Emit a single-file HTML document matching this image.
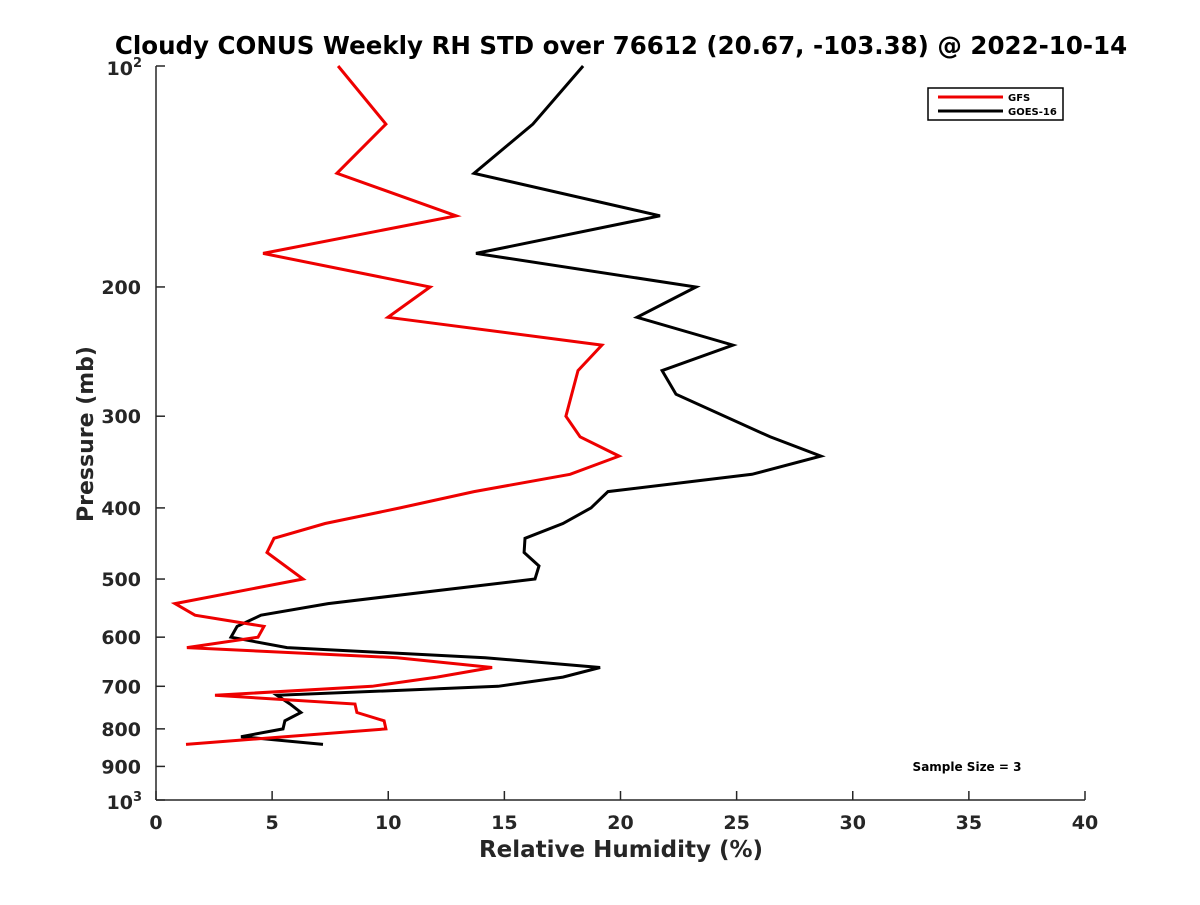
<!DOCTYPE html>
<html><head><meta charset="utf-8"><style>
body{margin:0;background:#fff}
text{font-family:"DejaVu Sans","Liberation Sans",sans-serif;font-weight:bold;fill:#262626}
</style></head><body>
<svg id="chart" width="1200" height="900" xmlns="http://www.w3.org/2000/svg">
<text x="621" y="54" font-size="24.5" text-anchor="middle" style="fill:#000">Cloudy CONUS Weekly RH STD over 76612 (20.67, -103.38) @ 2022-10-14</text>
<g id="axes"></g>
<g id="series"></g>
<text x="621" y="857" font-size="23" text-anchor="middle">Relative Humidity (%)</text>
<text transform="translate(93,434) rotate(-90)" font-size="22" text-anchor="middle">Pressure (mb)</text>
<text x="967" y="771" font-size="12" text-anchor="middle" style="fill:#000">Sample Size = 3</text>
<g>
<rect x="928" y="88" width="135" height="32" fill="#fff" stroke="#000" stroke-width="1.5"/>
<line x1="938" y1="97" x2="1003" y2="97" stroke="#e00" stroke-width="3"/>
<text x="1008" y="101" font-size="10" style="fill:#000">GFS</text>
<line x1="938" y1="111" x2="1003" y2="111" stroke="#000" stroke-width="3"/>
<text x="1008" y="115" font-size="10" style="fill:#000">GOES-16</text>
</g>
</svg>
<script>
const gfsP=[100,120,140,160,180,200,220,240,260,300,320,340,360,380,400,420,440,460,500,540,560,580,600,620,640,660,680,700,720,740,760,780,800,840];
const gfsRH=[7.84,9.9,7.79,12.92,4.61,11.8,9.99,19.2,18.17,17.65,18.26,19.94,17.83,13.69,10.51,7.28,5.08,4.78,6.33,0.82,1.68,4.65,4.39,1.33,10.38,14.47,12.1,9.3,2.54,8.57,8.65,9.82,9.9,1.29];
const goesP=[100,120,140,160,180,200,220,240,260,280,320,340,360,380,400,420,440,460,480,500,540,560,580,600,620,640,660,680,700,720,740,760,780,800,820,840];
const goesRH=[18.39,16.23,13.69,21.7,13.78,23.25,20.71,24.84,21.79,22.39,26.44,28.63,25.66,19.46,18.73,17.52,15.89,15.85,16.49,16.32,7.41,4.52,3.49,3.23,5.64,14.17,19.12,17.52,14.73,5.21,5.77,6.24,5.55,5.47,3.66,7.19];
const xTicks=[0,5,10,15,20,25,30,35,40];
const yTicks=[200,300,400,500,600,700,800,900];
const X0=156,X1=1085,Y0=66,Y1=800;
const xs=v=>X0+(v/40)*(X1-X0);
const ys=p=>Y0+Math.log10(p/100)*(Y1-Y0);
const NS="http://www.w3.org/2000/svg";
const ax=document.getElementById('axes');
function mk(t,a,parent){const e=document.createElementNS(NS,t);for(const k in a)e.setAttribute(k,a[k]);parent.appendChild(e);return e;}
let l=mk('line',{x1:X0,y1:Y0,x2:X0,y2:Y1,stroke:'#262626','stroke-width':1.5},ax);


l=mk('line',{x1:X0,y1:Y1,x2:X1,y2:Y1,stroke:'#262626','stroke-width':1.5},ax);


xTicks.forEach(v=>{
 const x=xs(v);
 mk('line',{x1:x,y1:Y1,x2:x,y2:Y1-9,stroke:'#262626','stroke-width':1.5},ax);
 const t=mk('text',{x:x,y:Y1+29,'font-size':19,'text-anchor':'middle'},ax);
 t.textContent=v;
 
 
});
[100,1000].concat(yTicks).forEach(p=>{
 const y=ys(p);
 mk('line',{x1:X0,y1:y,x2:X0+9,y2:y,stroke:'#262626','stroke-width':1.5},ax);
});
yTicks.forEach(p=>{
 const t=mk('text',{x:X0-15,y:ys(p)+7,'font-size':19,'text-anchor':'end'},ax);
 t.textContent=p;
 
 
});
[[100,'2'],[1000,'3']].forEach(([p,e])=>{
 const t=mk('text',{x:X0-14,y:ys(p)+9,'font-size':19,'text-anchor':'end'},ax);
 t.innerHTML='10<tspan dy="-8" font-size="13">'+e+'</tspan>';
 
 
});
const sg=document.getElementById('series');
function line(P,V,c,name){
 const pts=P.map((p,i)=>xs(V[i]).toFixed(1)+','+ys(p).toFixed(1)).join(' ');
 const e=mk('polyline',{points:pts,fill:'none',stroke:c,'stroke-width':3,'stroke-linejoin':'miter'},sg);
 
 
}
line(goesP,goesRH,'#000','goes-16-line');
line(gfsP,gfsRH,'#e00','gfs-line');
</script>
</body></html>
